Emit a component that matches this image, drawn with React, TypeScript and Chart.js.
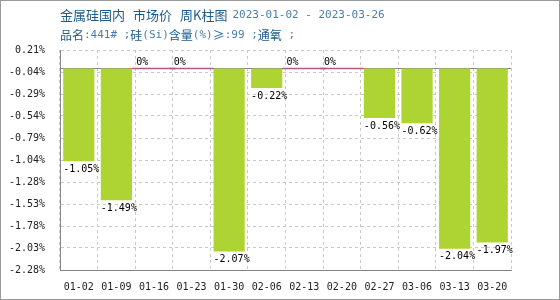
import React, { useEffect, useRef } from "react";
import { Chart, registerables } from "chart.js";

Chart.register(...registerables);

const categories = ["01-02", "01-09", "01-16", "01-23", "01-30", "02-06", "02-13", "02-20", "02-27", "03-06", "03-13", "03-20"];
const values = [-1.05, -1.49, 0, 0, -2.07, -0.22, 0, 0, -0.56, -0.62, -2.04, -1.97];
const yTickLabels = ["0.21%", "-0.04%", "-0.29%", "-0.54%", "-0.79%", "-1.04%", "-1.28%", "-1.53%", "-1.78%", "-2.03%", "-2.28%"];
const yMax = 0.21;
const yMin = -2.28;

const titleLine1: [string, string][] = [
  ["金属硅国内", "cjk"],
  [" ", "gap"],
  ["市场价", "cjk"],
  [" ", "gap"],
  ["周K柱图", "cjk"],
  [" ", "gap2"],
  ["2023-01-02 - 2023-03-26", "mono"],
];
const titleLine2: [string, string][] = [
  ["品名", "cjk2"],
  [":441#", "mono"],
  [" ;", "mono"],
  ["硅", "cjk2"],
  ["(Si)", "mono"],
  ["含量", "cjk2"],
  ["(%)", "mono"],
  ["≥", "cjk2"],
  [":99", "mono"],
  [" ;", "mono"],
  ["通氧", "cjk2"],
  [" ;", "mono"],
];

const MONO = '"DejaVu Sans Mono", monospace';
const CJK = '"Noto Sans CJK SC", sans-serif';

function drawSegments(ctx: CanvasRenderingContext2D, segs: [string, string][], x0: number, y: number) {
  let x = x0;
  ctx.textBaseline = "middle";
  ctx.textAlign = "left";
  for (const [text, kind] of segs) {
    if (kind === "gap") { x += 8; continue; }
    if (kind === "gap2") { x += 5; continue; }
    if (kind === "cjk") { ctx.font = `13px ${CJK}`; ctx.fillStyle = "#1d5a8a"; }
    else if (kind === "cjk2") { ctx.font = `12px ${CJK}`; ctx.fillStyle = "#1d5a8a"; }
    else { ctx.font = `11px ${MONO}`; ctx.fillStyle = "#4a7dab"; }
    ctx.fillText(text, x, y);
    x += ctx.measureText(text).width;
  }
}

const decorPlugin = {
  id: "decor",
  beforeDatasetsDraw(chart: any) {
    const ctx = chart.ctx;
    const ca = chart.chartArea;
    const y0 = Math.round(chart.scales.y.getPixelForValue(0)) - 0.5;
    ctx.save();
    ctx.strokeStyle = "#888";
    ctx.lineWidth = 1;
    ctx.beginPath();
    ctx.moveTo(ca.left, y0);
    ctx.lineTo(ca.right, y0);
    ctx.stroke();
    ctx.restore();
  },
  afterDatasetsDraw(chart: any) {
    const ctx = chart.ctx;
    const xs = chart.scales.x;
    const ys = chart.scales.y;
    const catW = (xs.right - xs.left) / categories.length;
    const zeroY = ys.getPixelForValue(0);
    const meta = chart.getDatasetMeta(0);
    ctx.save();
    ctx.font = `10px ${MONO}`;
    ctx.fillStyle = "#000";
    ctx.textAlign = "left";
    meta.data.forEach((bar: any, i: number) => {
      const v = values[i];
      if (v === 0) {
        const left = xs.getPixelForValue(i) - catW / 2 + 1;
        ctx.textBaseline = "bottom";
        ctx.fillText("0%", left, zeroY - 1);
      } else {
        const p = bar.getProps(["x", "y", "width"], true);
        ctx.textBaseline = "top";
        ctx.fillText(v.toFixed(2) + "%", p.x - p.width / 2, p.y + 3);
      }
    });
    ctx.restore();
  },
  afterDraw(chart: any) {
    const ctx = chart.ctx;
    ctx.save();
    ctx.strokeStyle = "#999";
    ctx.lineWidth = 1;
    ctx.strokeRect(0.5, 0.5, chart.width - 1, chart.height - 1);
    drawSegments(ctx, titleLine1, chart.chartArea.left, 15);
    drawSegments(ctx, titleLine2, chart.chartArea.left, 35);
    ctx.restore();
  },
};

export default function App() {
  const ref = useRef<HTMLCanvasElement | null>(null);
  useEffect(() => {
    if (!ref.current) return;
    const chart = new Chart(ref.current, {
      type: "bar",
      data: {
        labels: categories,
        datasets: [
          {
            data: values,
            backgroundColor: "#add433",
            borderWidth: 0,
            barPercentage: 0.83,
            categoryPercentage: 1,
          },
          {
            data: values.map((v) => (v === 0 ? 0 : null)),
            backgroundColor: "#b3578a",
            borderWidth: 0,
            barPercentage: 1.17,
            categoryPercentage: 1,
            minBarLength: 1.5,
          },
        ],
      },
      options: {
        responsive: false,
        animation: false,
        layout: { padding: { left: 0, right: 49, top: 50, bottom: 0 } },
        plugins: { legend: { display: false }, tooltip: { enabled: false }, title: { display: false } },
        scales: {
          x: {
            stacked: true,
            grid: { color: "#c8c8c8", drawTicks: false, offset: true },
            border: { display: true, color: "#888", dash: [3, 3] },
            ticks: { font: { family: MONO, size: 10 }, color: "#222", padding: 11, maxRotation: 0, autoSkip: false },
            afterFit: (s: any) => { s.height = 30; },
          },
          y: {
            stacked: false,
            min: yMin,
            max: yMax,
            grid: { color: "#c8c8c8", drawTicks: false },
            border: { display: true, color: "#888", dash: [3, 3] },
            afterBuildTicks: (s: any) => {
              const n = yTickLabels.length - 1;
              s.ticks = yTickLabels.map((_, i) => ({ value: yMin + (i * (yMax - yMin)) / n }));
            },
            ticks: {
              font: { family: MONO, size: 10 },
              color: "#222",
              padding: 15,
              callback: (_v: any, i: number) => yTickLabels[yTickLabels.length - 1 - i],
            },
            afterFit: (s: any) => { s.width = 60; },
          },
        },
      },
      plugins: [decorPlugin],
    });
    return () => chart.destroy();
  }, []);
  return (
    <div style={{ position: "fixed", left: 0, top: 0, width: 560, height: 300, background: "#fff" }}>
      <canvas ref={ref} width={560} height={300} />
    </div>
  );
}
